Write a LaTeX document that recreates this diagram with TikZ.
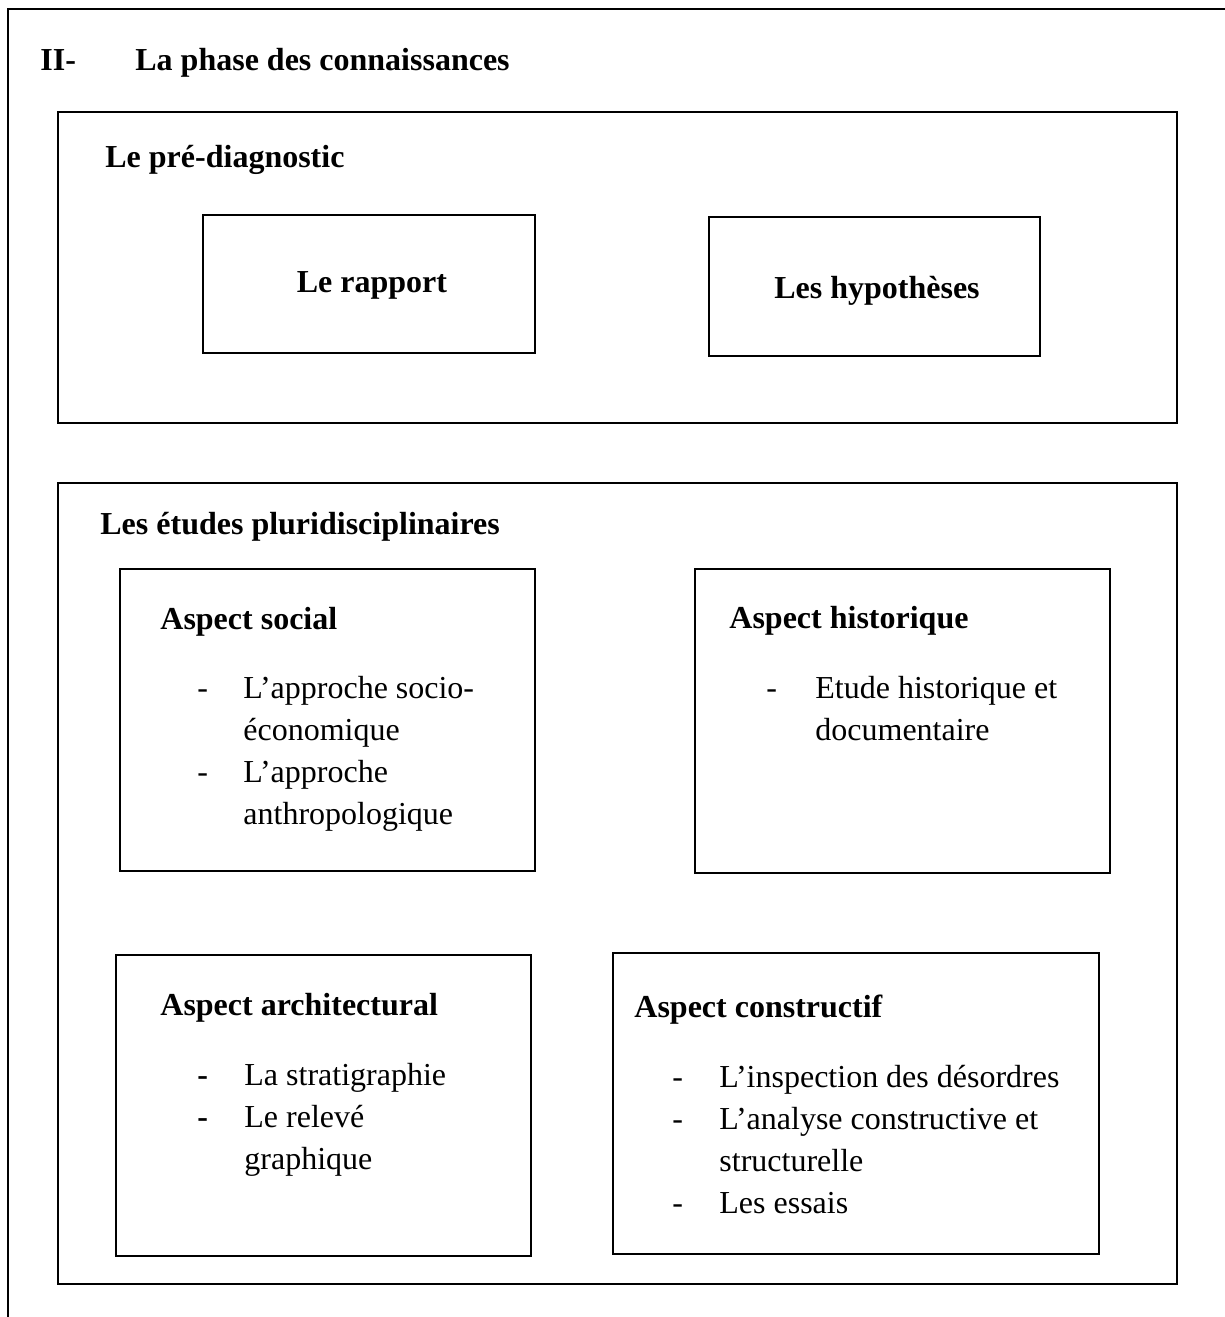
\documentclass[tikz,border=0pt]{standalone}
\usepackage{fontspec}
\setmainfont{Liberation Serif}
\usepackage{tikz}
\usetikzlibrary{positioning}

\tikzset{
    frame/.style={draw, line width=1pt},
    head/.style={anchor=base west, inner sep=0pt, font=\fontsize{16}{21}\selectfont\bfseries},
    txt/.style={anchor=base west, inner sep=0pt, font=\fontsize{16}{21}\selectfont},
}

\begin{document}
\begin{tikzpicture}[x=0.5pt, y=-0.5pt]
    \useasboundingbox (0,0) rectangle (1225,1317);

    % Outer frame (open to the right and bottom)
    \draw[frame] (1225,9) -- (8,9) -- (8,1317);
    \node[head] (num) at (40,70) {II-};
    \node[head] (title) at (135,70) {La phase des connaissances};

    % Le pre-diagnostic
    \draw[frame] (58,112) rectangle (1177,423);
    \node[head] (prediag) at (105,167) {Le pré-diagnostic};
    \draw[frame] (203,215) rectangle (535,353);
    \node[head, anchor=base] (rapport) at (372,292) {Le rapport};
    \draw[frame] (709,217) rectangle (1040,356);
    \node[head, anchor=base] (hypo) at (877,298) {Les hypothèses};

    % Les etudes pluridisciplinaires
    \draw[frame] (58,483) rectangle (1177,1284);
    \node[head] (etudes) at (100,534) {Les études pluridisciplinaires};

    % Aspect social
    \draw[frame] (120,569) rectangle (535,871);
    \node[head] (social) at (160,629) {Aspect social};
    \foreach \y/\d/\t [count=\k] in {698/-/L’approche socio-, 740//économique,
                                     782/-/L’approche, 824//anthropologique} {
        \node[txt] (soc\k) at (243,\y) {\t};
        \node[txt] at (197,\y) {\d};
    }

    % Aspect historique
    \draw[frame] (695,569) rectangle (1110,873);
    \node[head] (histo) at (729,628) {Aspect historique};
    \foreach \y/\d/\t [count=\k] in {698/-/Etude historique et, 740//documentaire} {
        \node[txt] (his\k) at (815,\y) {\t};
        \node[txt] at (766,\y) {\d};
    }

    % Aspect architectural
    \draw[frame] (116,955) rectangle (531,1256);
    \node[head] (archi) at (160,1015) {Aspect architectural};
    \foreach \y/\d/\t [count=\k] in {1085/-/La stratigraphie, 1127/-/Le relevé,
                                     1169//graphique} {
        \node[txt] (arc\k) at (244,\y) {\t};
        \node[head] at (197,\y) {\d};
    }

    % Aspect constructif
    \draw[frame] (613,953) rectangle (1099,1254);
    \node[head] (constr) at (634,1017) {Aspect constructif};
    \foreach \y/\d/\t [count=\k] in {1087/-/L’inspection des désordres,
                                     1129/-/L’analyse constructive et,
                                     1171//structurelle, 1213/-/Les essais} {
        \node[txt] (con\k) at (719,\y) {\t};
        \node[txt] at (672,\y) {\d};
    }
\end{tikzpicture}
\end{document}
